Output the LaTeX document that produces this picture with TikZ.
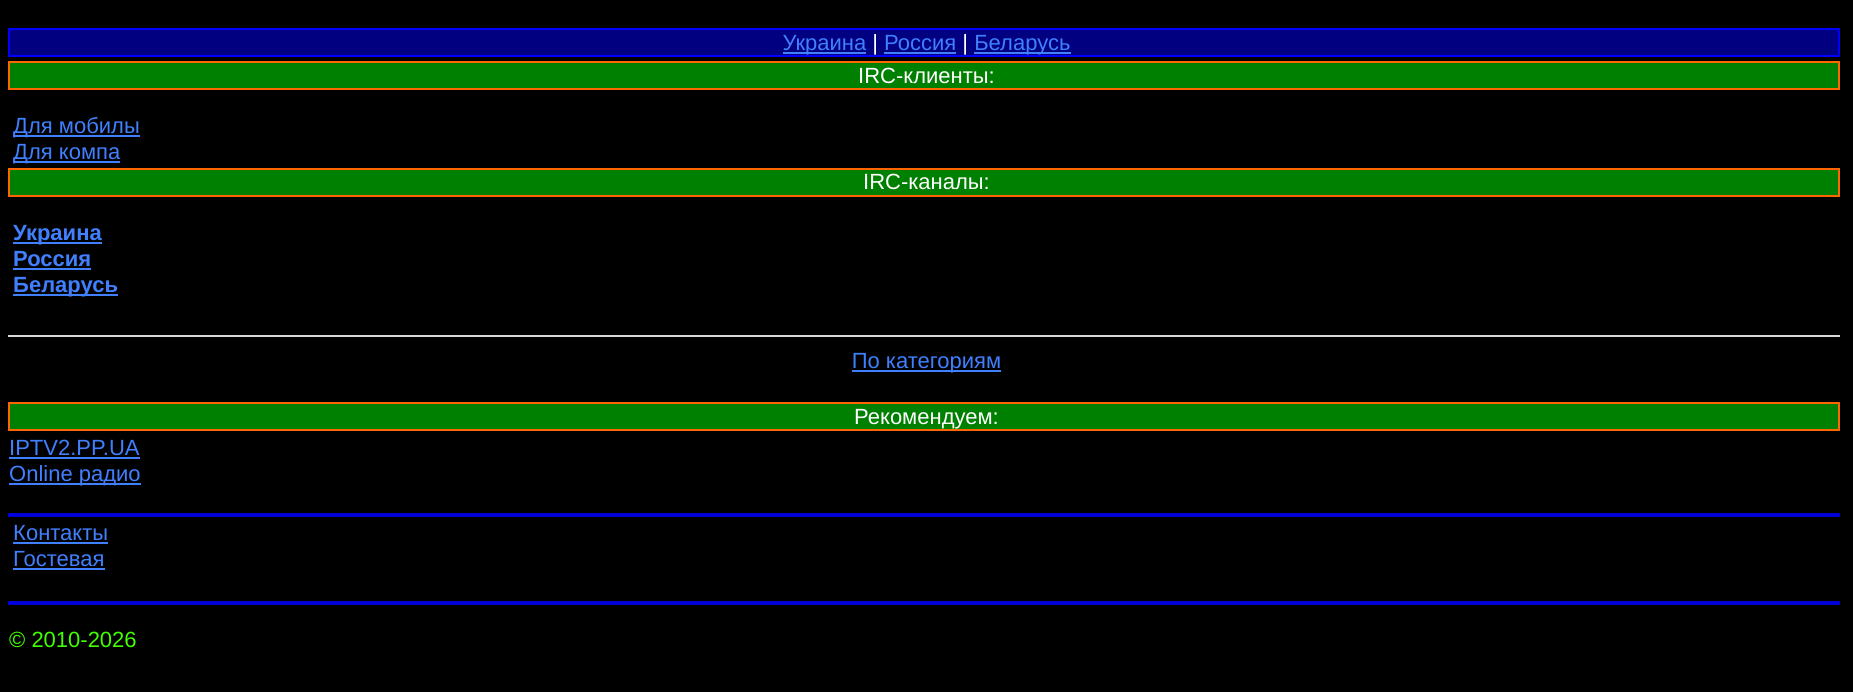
\documentclass[tikz,border=0pt]{standalone}
\usepackage{fontspec}
\setmainfont{Liberation Sans}
\definecolor{linkc}{RGB}{64,128,255}
\definecolor{navbg}{RGB}{0,0,128}
\definecolor{navbd}{RGB}{0,0,255}
\definecolor{barbg}{RGB}{0,128,0}
\definecolor{barbd}{RGB}{255,102,0}
\definecolor{hrgray}{RGB}{215,215,215}
\definecolor{hrblue}{RGB}{0,0,215}
\definecolor{copyc}{RGB}{64,255,0}
\newcommand\fs{\fontsize{22pt}{26pt}\selectfont}
\newcommand\lnk[1]{{\color{linkc}\setbox0\hbox{#1}\rlap{\rule[-3.1pt]{\wd0}{1.7pt}}\box0}}
\tikzset{
  txt/.style={inner sep=0pt, anchor=base west, font=\fs, text=white},
  ctr/.style={txt, anchor=base},
  navbar/.style={fill=navbg, draw=navbd, line width=2pt},
  greenbar/.style={fill=barbg, draw=barbd, line width=2pt},
}
\begin{document}
\begin{tikzpicture}[x=1pt,y=-1pt]
\useasboundingbox (0,0) rectangle (1853,692);
\fill[black] (0,0) rectangle (1853,692);
% bars
\draw[navbar] (9,29.3) rectangle (1839,56.5);
\draw[greenbar] (9,62.3) rectangle (1839,89.5);
\draw[greenbar] (9,169.3) rectangle (1839,196.3);
\draw[greenbar] (9,402.7) rectangle (1839,429.9);
% rules
\draw[line width=2pt, hrgray] (8,336) -- (1840,336);
\draw[line width=3.6pt, hrblue] (8,514.9) -- (1840,514.9);
\draw[line width=3.4pt, hrblue] (8,602.9) -- (1840,602.9);
% texts
\node[ctr] (nav) at (926.5,50.5) {\lnk{Украина} | \lnk{Россия} | \lnk{Беларусь}};
\node[ctr] (h1) at (926.5,83.5) {IRC-клиенты:};
\node[txt] (m1) at (13,133.5) {\lnk{Для мобилы}};
\node[txt] (m2) at (13,159.5) {\lnk{Для компа}};
\node[ctr] (h2) at (926.5,189.5) {IRC-каналы:};
\node[txt] (c1) at (13,240.5) {\bfseries\lnk{Украина}};
\node[txt] (c2) at (13,266.5) {\bfseries\lnk{Россия}};
\node[txt] (c3) at (13,292.5) {\bfseries\lnk{Беларусь}};
\node[ctr] (cat) at (926.5,368.5) {\lnk{По категориям}};
\node[ctr] (h3) at (926.5,424.5) {Рекомендуем:};
\node[txt] (r1) at (9,455.5) {\lnk{IPTV2.PP.UA}};
\node[txt] (r2) at (9,481.5) {\lnk{Online радио}};
\node[txt] (k1) at (13,540.5) {\lnk{Контакты}};
\node[txt] (k2) at (13,566.5) {\lnk{Гостевая}};
\node[txt, text=copyc] (cp) at (9,647.5) {© 2010-2026};
\end{tikzpicture}
\end{document}
